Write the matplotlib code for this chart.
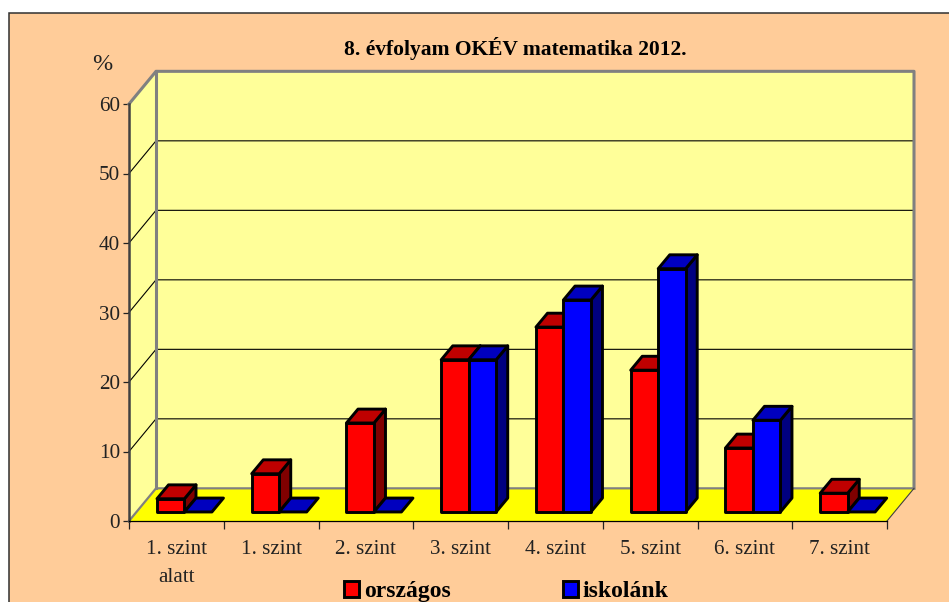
import matplotlib
matplotlib.use("Agg")
import matplotlib.pyplot as plt
from matplotlib.patches import Polygon, Rectangle, Patch

plt.rcParams['font.family'] = ['Liberation Serif', 'DejaVu Serif']

# adatok
szintek = ["1. szint\nalatt", "1. szint", "2. szint", "3. szint", "4. szint", "5. szint", "6. szint", "7. szint"]
orszagos = [1.9, 5.5, 12.8, 21.9, 26.6, 20.4, 9.2, 2.7]
iskolank = [0, 0, 0, 21.9, 30.5, 35.0, 13.2, 0]
y_ticks = [0, 10, 20, 30, 40, 50, 60]

W, H = 949, 602

# 3D hatas: a hatso fal eltolasa es az oszlopok melysege adategysegben
DX, DY = 0.285, 4.7
BX, BY = 0.122, 2.0
BAR_Y0 = 1.3
BAR_W = 0.29
BAR_X0 = 0.295

fig = plt.figure(figsize=(W / 100, H / 100), dpi=100, facecolor="white")

# keret
fig.add_artist(Rectangle((9 / W, -0.1), 1.1, 1.1 - 13 / H, transform=fig.transFigure,
                         facecolor="#FFCC99", edgecolor="#303030", linewidth=1.1, zorder=-1))

ax = fig.add_axes([129 / W, 1 - 521 / H, (887 - 129) / W, (521 - 104) / H])
ax.set_xlim(0, 8)
ax.set_ylim(0, 60)
ax.patch.set_visible(False)
for s in ["top", "right"]:
    ax.spines[s].set_visible(False)
ax.spines["left"].set_color("#404040")
ax.spines["left"].set_linewidth(1.8)
ax.spines["bottom"].set_color("black")
ax.spines["bottom"].set_linewidth(0.9)
ax.spines["left"].set_zorder(8)
ax.spines["bottom"].set_zorder(8)


def poly(pts, fc, ec="none", lw=0, z=2):
    ax.add_patch(Polygon(pts, closed=True, facecolor=fc, edgecolor=ec, linewidth=lw,
                         zorder=z, clip_on=False, joinstyle="round"))


# falak es padlo
poly([(0, 0), (DX, DY), (8 + DX, DY), (8 + DX, 60 + DY), (DX, 60 + DY), (0, 60)], "#FFFF99", z=1)
poly([(0, 0), (8, 0), (8 + DX, DY), (DX, DY)], "#FFFF00", z=1.5)

# racsvonalak
for v in y_ticks[1:-1]:
    ax.plot([0, DX, 8 + DX], [v, v + DY, v + DY], color="black", lw=0.8, zorder=1.6, clip_on=False)

# fal szelei
ax.plot([0, DX, 8 + DX, 8 + DX], [60, 60 + DY, 60 + DY, DY], color="#808080", lw=2.2, zorder=1.7, clip_on=False)
ax.plot([DX, DX], [DY, 60 + DY], color="#808080", lw=2.2, zorder=1.7, clip_on=False)
ax.plot([0, DX, 8 + DX], [0, DY, DY], color="#808080", lw=1.6, zorder=1.7, clip_on=False)
ax.plot([8, 8 + DX], [0, DY], color="#404040", lw=0.8, zorder=1.7, clip_on=False)


def oszlop(x, v, front, top, side, z):
    y0 = BAR_Y0
    y1 = BAR_Y0 + v
    x1 = x + BAR_W
    ec = "black"
    lw = 2.1
    if v == 0:
        poly([(x, y0), (x1, y0), (x1 + BX, y0 + BY), (x + BX, y0 + BY)], top, ec, lw, z)
        return
    poly([(x1, y0), (x1 + BX, y0 + BY), (x1 + BX, y1 + BY), (x1, y1)], side, ec, lw, z)
    poly([(x, y1), (x1, y1), (x1 + BX, y1 + BY), (x + BX, y1 + BY)], top, ec, lw, z)
    poly([(x, y0), (x1, y0), (x1, y1), (x, y1)], front, ec, lw, z)


for i in range(len(szintek)):
    oszlop(i + BAR_X0, orszagos[i], "#FF0000", "#BF0000", "#800000", 3 + i * 0.1)
    oszlop(i + BAR_X0 + BAR_W, iskolank[i], "#0000FF", "#0000BF", "#000080", 3.05 + i * 0.1)

# tengelyek
ax.set_yticks(y_ticks)
ax.tick_params(axis="y", labelsize=15.2, length=4.5, width=0.9, pad=2, colors="#222222")
ax.set_xticks(range(9))
ax.set_xticklabels([])
ax.tick_params(axis="x", which="major", length=5.5, width=0.9, color="#222222")
ax.set_xticks([i + 0.5 for i in range(8)], minor=True)
ax.set_xticklabels(szintek, minor=True, fontsize=15.2, color="#222222", linespacing=1.6)
ax.tick_params(axis="x", which="minor", length=0, pad=14)

fig.text(102 / W, 1 - 65 / H, "%", fontsize=17.5, ha="center", va="center", color="#222222")
fig.text(515 / W, 1 - 49 / H, "8. évfolyam OKÉV matematika 2012.", fontsize=15.5, fontweight="bold",
         ha="center", va="center", color="black")

handles = [Patch(facecolor="#FF0000", edgecolor="black", linewidth=2.1, label="országos"),
           Patch(facecolor="#0000FF", edgecolor="black", linewidth=2.1, label="iskolánk")]
fig.legend(handles=handles, ncol=2, loc="lower left", bbox_to_anchor=(344 / W, 1 - 602 / H),
           frameon=False, prop={"size": 17, "weight": "bold"}, handlelength=0.64, handleheight=0.64,
           handletextpad=0.2, columnspacing=4.75, borderpad=0, borderaxespad=0)

plt.savefig("out.png", dpi=100, facecolor="white")
